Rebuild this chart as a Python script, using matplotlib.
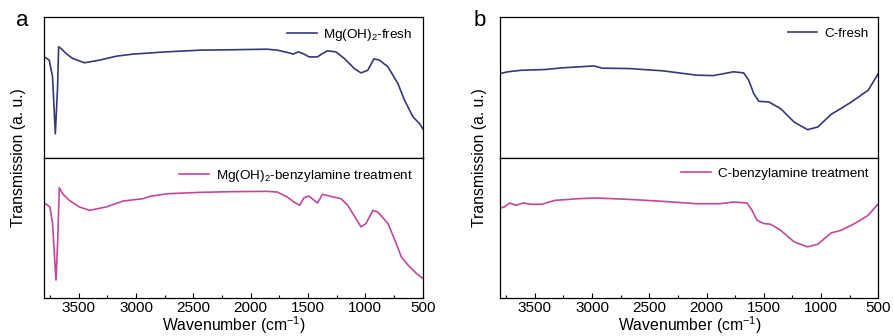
import matplotlib
matplotlib.use("Agg")
import matplotlib.pyplot as plt
from matplotlib.ticker import MultipleLocator
import numpy as np

plt.rcParams['font.family'] = ['Liberation Sans', 'DejaVu Sans']
plt.rcParams['mathtext.fontset'] = 'custom'
plt.rcParams['mathtext.rm'] = 'Liberation Sans'
plt.rcParams['mathtext.it'] = 'Liberation Sans:italic'

# ---- data (wavenumber, transmission a.u.) ----
mg_fresh_wn = [3800, 3757, 3728, 3704, 3684, 3675, 3654, 3610, 3553, 3450, 3318, 3172, 3026,
               2733, 2441, 2149, 1856, 1768, 1681, 1628, 1584, 1535, 1491, 1418, 1374, 1330,
               1257, 1184, 1096, 1038, 979, 926, 877, 803, 716, 658, 584, 526, 500]
mg_fresh_t = [0.716, 0.693, 0.574, 0.169, 0.502, 0.788, 0.776, 0.740, 0.705, 0.674, 0.693, 0.721, 0.736,
              0.752, 0.764, 0.767, 0.771, 0.764, 0.748, 0.736, 0.752, 0.736, 0.716, 0.716, 0.740, 0.759,
              0.752, 0.705, 0.633, 0.602, 0.621, 0.702, 0.693, 0.645, 0.526, 0.407, 0.288, 0.240, 0.205]

mg_benz_wn = [3800, 3751, 3728, 3704, 3698, 3684, 3669, 3640, 3582, 3494, 3406, 3260, 3114, 2939,
              2880, 2733, 2441, 2149, 1856, 1768, 1681, 1623, 1573, 1535, 1491, 1447, 1418, 1374,
              1301, 1213, 1154, 1082, 1038, 994, 935, 891, 803, 731, 687, 628, 555, 500]
mg_benz_t = [0.676, 0.648, 0.530, 0.199, 0.128, 0.388, 0.785, 0.742, 0.695, 0.648, 0.624, 0.648, 0.690, 0.707,
             0.723, 0.742, 0.752, 0.757, 0.759, 0.754, 0.719, 0.683, 0.660, 0.714, 0.726, 0.695, 0.676, 0.738,
             0.723, 0.707, 0.660, 0.565, 0.506, 0.530, 0.624, 0.612, 0.530, 0.388, 0.293, 0.234, 0.175, 0.140]

c_fresh_wn = [3800, 3735, 3618, 3412, 3264, 3118, 2985, 2912, 2677, 2382, 2088, 1941, 1764, 1676,
              1632, 1588, 1544, 1456, 1353, 1235, 1118, 1029, 912, 853, 735, 588, 500]
c_fresh_t = [0.598, 0.610, 0.621, 0.626, 0.638, 0.645, 0.652, 0.636, 0.633, 0.617, 0.586, 0.583, 0.610, 0.602,
             0.550, 0.455, 0.400, 0.395, 0.348, 0.252, 0.198, 0.217, 0.307, 0.336, 0.395, 0.479, 0.598]

c_benz_wn = [3800, 3765, 3721, 3662, 3603, 3529, 3441, 3324, 3118, 2971, 2677, 2382, 2088, 1882, 1764,
             1647, 1603, 1559, 1500, 1441, 1353, 1235, 1118, 1029, 912, 824, 706, 588, 500]
c_benz_t = [0.641, 0.648, 0.676, 0.660, 0.676, 0.667, 0.667, 0.695, 0.707, 0.712, 0.702, 0.688, 0.671, 0.671, 0.683,
            0.676, 0.624, 0.553, 0.530, 0.525, 0.482, 0.399, 0.364, 0.383, 0.463, 0.482, 0.530, 0.589, 0.671]

labels = ['Mg(OH)$_\\mathregular{2}$-fresh', 'Mg(OH)$_\\mathregular{2}$-benzylamine treatment',
          'C-fresh', 'C-benzylamine treatment']

BLUE = '#37387a'
PINK = '#c2489a'

W, H = 895, 336
fig = plt.figure(figsize=(W / 100, H / 100), dpi=100)

def ax_rect(x0, x1, y0, y1):
    return [x0 / W, 1 - y1 / H, (x1 - x0) / W, (y1 - y0) / H]

panels = [
    (44.3, 422.7, [(mg_fresh_wn, mg_fresh_t, BLUE, labels[0]), (mg_benz_wn, mg_benz_t, PINK, labels[1])]),
    (500.5, 878.3, [(c_fresh_wn, c_fresh_t, BLUE, labels[2]), (c_benz_wn, c_benz_t, PINK, labels[3])]),
]
ymid = 157.5
for (x0, x1, series) in panels:
    ax_top = fig.add_axes(ax_rect(x0, x1, 17, ymid))
    ax_bot = fig.add_axes(ax_rect(x0, x1, ymid, 298))
    for ax, (wn, t, col, lab) in zip([ax_top, ax_bot], series):
        ax.plot(wn, t, color=col, lw=1.2, label=lab)
        ax.set_xlim(3800, 500)
        ax.set_ylim(0, 1)
        ax.set_yticks([])
        ax.legend(loc='upper right', frameon=False, fontsize=9.7, handlelength=2.2,
                  handletextpad=0.5, borderaxespad=0.35)
        for sp in ax.spines.values():
            sp.set_linewidth(0.9)
    ax_top.set_xticks([])
    ax_top.tick_params(axis='x', which='both', bottom=False, labelbottom=False)
    ax_bot.xaxis.set_major_locator(MultipleLocator(500))
    ax_bot.xaxis.set_minor_locator(MultipleLocator(250))
    ax_bot.tick_params(axis='x', which='major', direction='in', length=3.5, width=0.8,
                       labelsize=11, pad=2)
    ax_bot.tick_params(axis='x', which='minor', direction='in', length=2, width=0.8)
    ax_bot.set_xticks([3500, 3000, 2500, 2000, 1500, 1000, 500])
    ax_bot.set_xlabel('Wavenumber (cm$^\\mathregular{-1}$)', fontsize=11.3, labelpad=0)

fig.text(19 / W, 1 - 158 / H, 'Transmission (a. u.)', rotation=90, ha='center', va='center', fontsize=11.3)
fig.text(480 / W, 1 - 158 / H, 'Transmission (a. u.)', rotation=90, ha='center', va='center', fontsize=11.3)
fig.text(22 / W, 1 - 21 / H, 'a', ha='center', va='center', fontsize=16)
fig.text(480 / W, 1 - 20 / H, 'b', ha='center', va='center', fontsize=16)

fig.savefig('out.png', dpi=100)
